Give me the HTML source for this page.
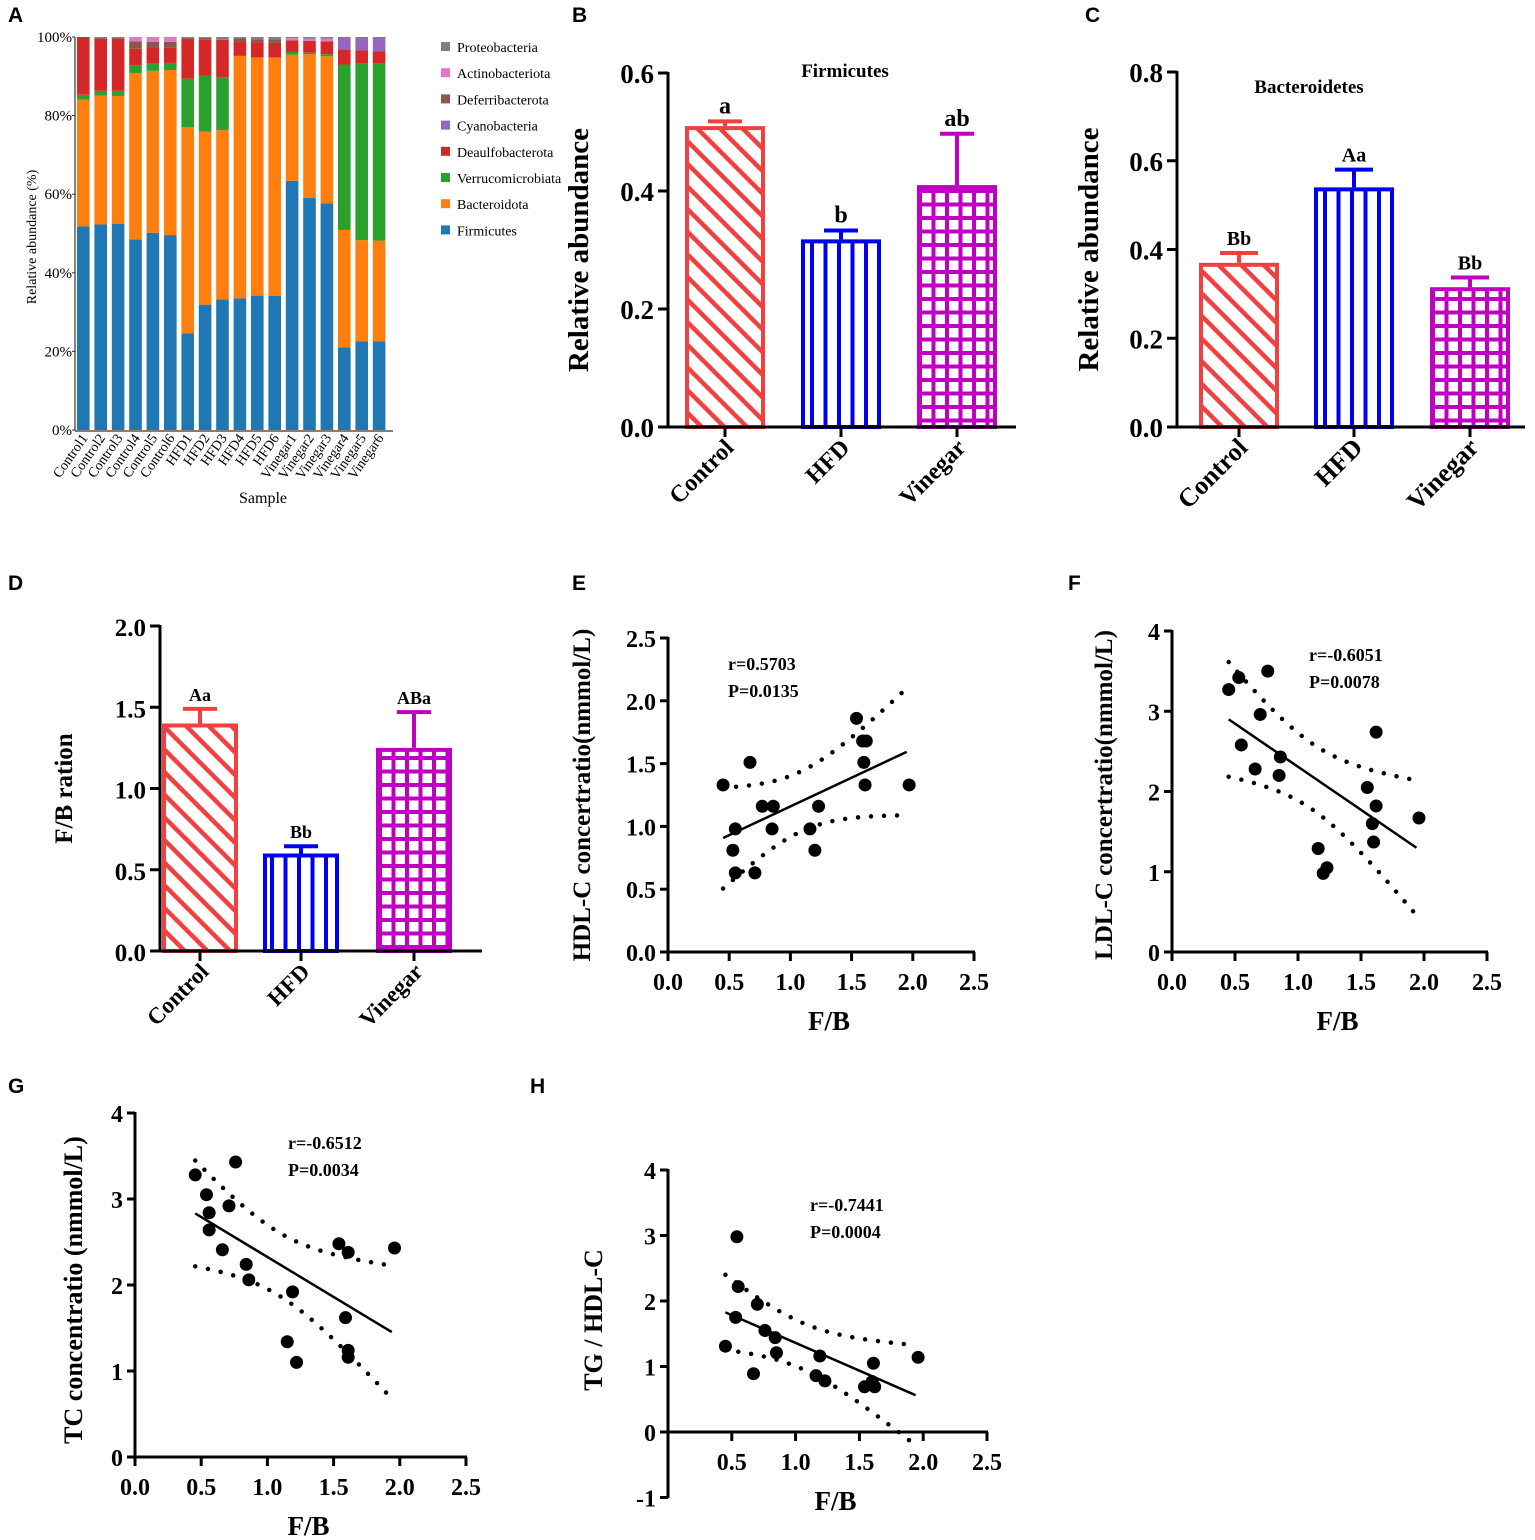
<!DOCTYPE html>
<html><head><meta charset="utf-8"><style>
body{margin:0;background:#fff;}
svg{display:block;font-family:"Liberation Serif",serif;}
.pl{font-family:"Liberation Sans",sans-serif;font-weight:bold;font-size:21px;}
.b{font-weight:bold;}
</style></head><body>
<svg id="fig" width="1535" height="1540" viewBox="0 0 1535 1540" xmlns="http://www.w3.org/2000/svg">
<defs>
<pattern id="pDiag" patternUnits="userSpaceOnUse" width="16" height="16" patternTransform="rotate(-45)"><rect width="16" height="16" fill="#fff"/><rect x="0" y="0" width="4.5" height="16" fill="#f24040"/></pattern>
<pattern id="pVert" patternUnits="userSpaceOnUse" width="13.5" height="10"><rect width="13.5" height="10" fill="#fff"/><rect x="0" y="0" width="4" height="10" fill="#0000f0"/></pattern>
<pattern id="pGrid" patternUnits="userSpaceOnUse" width="13.5" height="13.5"><rect width="13.5" height="13.5" fill="#c000c0"/><rect x="4" y="4" width="9.5" height="9.5" fill="#fff"/></pattern>
</defs>
<g id="root"></g>
</svg>
<script>
// ---------- Panel A data ----------
const samplesA = ["Control1","Control2","Control3","Control4","Control5","Control6","HFD1","HFD2","HFD3","HFD4","HFD5","HFD6","Vinegar1","Vinegar2","Vinegar3","Vinegar4","Vinegar5","Vinegar6"];
const phylaA = ["Firmicutes","Bacteroidota","Verrucomicrobiata","Deaulfobacterota","Cyanobacteria","Deferribacterota","Actinobacteriota","Proteobacteria"];
const firmicutesA = [51.8,52.3,52.5,48.5,50.2,49.6,24.6,31.9,33.2,33.5,34.2,34.1,63.4,59.1,57.7,21.0,22.6,22.6];
const bacteroidotaA = [32.3,32.8,32.5,42.3,41.2,42.0,52.5,44.0,43.1,61.7,60.6,60.7,32.1,36.5,37.4,29.9,25.7,25.6];
const verrucoA = [1.2,1.2,1.3,2.0,1.8,1.8,12.3,14.3,13.5,0,0,0,0.7,0.4,0.5,42.1,44.9,45.0];
const desulfoA = [14.7,13.3,13.3,4.2,4.0,4.0,10.2,9.1,9.5,3.5,3.9,3.7,2.9,3.0,3.3,3.8,3.4,3.2];
const cyanoA = [0,0,0,0,0,0,0,0,0,0,0,0,0,0,0,3.2,3.4,3.6];
const deferriA = [0,0,0,1.9,1.6,1.4,0,0.5,0,0.9,0.7,0.9,0,0,0,0,0,0];
const actinoA = [0,0,0,1.1,1.2,1.2,0,0,0,0,0,0,0.6,0.6,0.7,0,0,0];
const proteoA = [0,0.4,0.4,0,0,0,0.4,0.2,0.7,0.4,0.6,0.6,0.3,0.4,0.4,0,0,0];
const colorsA = ["#1f77b4","#ff7f0e","#2ca02c","#d62728","#9467bd","#8c564b","#e377c2","#7f7f7f"];
const ticksA = [0,20,40,60,80,100];

// ---------- Bar charts data ----------
const groups = ["Control","HFD","Vinegar"];
const firmMean = [0.51,0.318,0.41];
const firmErr = [0.008,0.015,0.087];
const firmLetters = ["a","b","ab"];
const bactMean = [0.37,0.54,0.315];
const bactErr = [0.022,0.04,0.022];
const bactLetters = ["Bb","Aa","Bb"];
const fbMean = [1.40,0.60,1.25];
const fbErr = [0.09,0.045,0.22];
const fbLetters = ["Aa","Bb","ABa"];

// ---------- Scatter data ----------
const hdlX = [0.45,0.55,0.53,0.55,0.67,0.71,0.77,0.86,0.85,1.16,1.20,1.23,1.54,1.59,1.62,1.60,1.61,1.97];
const hdlY = [1.33,0.98,0.81,0.63,1.51,0.63,1.16,1.16,0.98,0.98,0.81,1.16,1.86,1.68,1.68,1.51,1.33,1.33];
const ldlX = [0.45,0.53,0.76,0.70,0.55,0.66,0.86,0.85,1.16,1.20,1.23,1.55,1.62,1.62,1.59,1.60,1.96];
const ldlY = [3.27,3.42,3.50,2.96,2.58,2.28,2.43,2.20,1.29,0.98,1.05,2.05,2.74,1.82,1.60,1.37,1.67];
const tcX = [0.455,0.54,0.56,0.76,0.71,0.56,0.66,0.84,0.86,1.19,1.15,1.22,1.54,1.61,1.59,1.61,1.61,1.96];
const tcY = [3.28,3.05,2.84,3.43,2.92,2.64,2.41,2.24,2.06,1.92,1.34,1.10,2.48,2.38,1.62,1.24,1.16,2.43];
const tgX = [0.54,0.55,0.53,0.45,0.70,0.76,0.84,0.85,0.67,1.19,1.16,1.23,1.61,1.54,1.62,1.96,1.60];
const tgY = [2.98,2.22,1.75,1.31,1.95,1.55,1.44,1.21,0.89,1.16,0.86,0.78,1.05,0.69,0.69,1.14,0.77];
const xTicksFB = [0,0.5,1.0,1.5,2.0,2.5];

const NS="http://www.w3.org/2000/svg";
const root=document.getElementById('root');
function el(tag,attrs,parent,text){const e=document.createElementNS(NS,tag);for(const k in attrs)e.setAttribute(k,attrs[k]);if(text!==undefined)e.textContent=text;(parent||root).appendChild(e);return e;}
function grp(name){const g=el('g',{});


return g;}
function lin(d0,d1,r0,r1){return v=>r0+(v-d0)*(r1-r0)/(d1-d0);}

[["A",8,22],["B",572,22],["C",1085,22],["D",8,590],["E",572,590],["F",1068,590],["G",8,1093],["H",530,1093]].forEach(p=>{
 const t=el('text',{x:p[1],y:p[2],class:'pl'},root,p[0]);
 
 
});

// ---------- Panel A ----------
(function(){
 const g=grp('panel-a-stacked-bar');
 const y=lin(0,100,430,37);
 const x0=77, step=17.4, bw=12.6;
 const series=[firmicutesA,bacteroidotaA,verrucoA,desulfoA,cyanoA,deferriA,actinoA,proteoA];
 samplesA.forEach((s,i)=>{
  let cum=0;
  series.forEach((arr,k)=>{
   const v=arr[i]; if(v<=0)return;
   let top=Math.min(cum+v,100);
   const r=el('rect',{x:x0+i*step,y:y(top),width:bw,height:y(cum)-y(top),fill:colorsA[k]},g);
   
   
   cum=top;
  });
  if(cum<100){const r=el('rect',{x:x0+i*step,y:y(100),width:bw,height:y(cum)-y(100),fill:colorsA[3]},g);
   
   }
  const t=el('text',{x:0,y:0,'font-size':14,'text-anchor':'end',transform:`translate(${x0+i*step+bw/2+5},${438}) rotate(-55)`},g,s);
  
  
 });
 el('line',{x1:75,y1:37,x2:75,y2:431,stroke:'#333','stroke-width':1.2},g);
 el('line',{x1:75,y1:431,x2:393,y2:431,stroke:'#333','stroke-width':1.2},g);
 ticksA.forEach(v=>{
  el('line',{x1:72,x2:75,y1:y(v),y2:y(v),stroke:'#333'},g);
  const t=el('text',{x:72,y:y(v)+5,'font-size':15,'text-anchor':'end'},g,v+'%');
  
  
 });
 const yt=el('text',{x:0,y:0,'font-size':14,'text-anchor':'middle',transform:'translate(36,237) rotate(-90)'},g,'Relative abundance (%)');
 
 
 const xt=el('text',{x:263,y:503,'font-size':16,'text-anchor':'middle'},g,'Sample');
 
 
 const legOrder=[7,6,5,4,3,2,1,0];
 legOrder.forEach((k,j)=>{
  const ly=47+j*26.2;
  const sq=el('rect',{x:441,y:ly-5,width:9,height:9,fill:colorsA[k]},g);
  
  
  const t=el('text',{x:457,y:ly+5,'font-size':14},g,phylaA[k]);
  
  
 });
})();

// ---------- Bar charts ----------
function barChart(o){
 const g=grp(o.name);
 const y=lin(0,o.ymax,o.y0,o.ytop);
 const fills=['url(#pDiag)','url(#pVert)','url(#pGrid)'];
 const strokes=['#f24040','#0000f0','#c000c0'];
 o.means.forEach((m,i)=>{
  const cx=o.cx[i], hw=o.bw/2;
  const e=m+o.errs[i];
  const ln=el('line',{x1:cx,x2:cx,y1:y(m),y2:y(e),stroke:strokes[i],'stroke-width':4},g);
  
  
  el('line',{x1:cx-o.cap,x2:cx+o.cap,y1:y(e),y2:y(e),stroke:strokes[i],'stroke-width':4},g);
  const r=el('rect',{x:cx-hw+2,y:y(m)+2,width:o.bw-4,height:y(0)-y(m)-2,fill:fills[i],stroke:strokes[i],'stroke-width':4},g);
  
  
  const t=el('text',{x:cx,y:y(e)-8,'font-size':o.lfs,'text-anchor':'middle',class:'b'},g,o.letters[i]);
  
  
  el('line',{x1:cx,x2:cx,y1:o.y0,y2:o.y0+10,stroke:'#000','stroke-width':3},g);
  const c=el('text',{x:0,y:0,'font-size':o.cfs,'text-anchor':'end',class:'b',transform:`translate(${cx+10},${o.y0+22}) rotate(-45)`},g,groups[i]);
  
  
 });
 el('line',{x1:o.ax,x2:o.ax,y1:o.ytop-1,y2:o.y0+1,stroke:'#000','stroke-width':3},g);
 el('line',{x1:o.ax-10,x2:o.xend,y1:o.y0,y2:o.y0,stroke:'#000','stroke-width':3},g);
 o.ticks.forEach(v=>{
  el('line',{x1:o.ax-10,x2:o.ax,y1:y(v),y2:y(v),stroke:'#000','stroke-width':3},g);
  const t=el('text',{x:o.ax-14,y:y(v)+10,'font-size':o.tfs,'text-anchor':'end',class:'b'},g,v.toFixed(1));
  
  
 });
 const yt=el('text',{x:0,y:0,'font-size':o.yfs,'text-anchor':'middle',class:'b',transform:`translate(${o.ytx},${(o.y0+o.ytop)/2}) rotate(-90)`},g,o.ytitle);
 
 
 if(o.title){const t=el('text',{x:o.title[1],y:o.title[2],'font-size':19,'text-anchor':'middle',class:'b'},g,o.title[0]);
  
  }
}
barChart({name:'panel-b-firmicutes',means:firmMean,errs:firmErr,letters:firmLetters,ymax:0.6,y0:427,ytop:73,ax:668,xend:1016,cx:[725,841,957],bw:80,cap:17,ticks:[0,0.2,0.4,0.6],tfs:27,yfs:29,ytx:588,ytitle:'Relative abundance',title:['Firmicutes',845,77],lfs:24,cfs:24});
barChart({name:'panel-c-bacteroidetes',means:bactMean,errs:bactErr,letters:bactLetters,ymax:0.8,y0:427,ytop:72,ax:1177,xend:1525,cx:[1239,1354,1470],bw:80,cap:19,ticks:[0,0.2,0.4,0.6,0.8],tfs:27,yfs:29,ytx:1098,ytitle:'Relative abundance',title:['Bacteroidetes',1309,93],lfs:20,cfs:26});
barChart({name:'panel-d-fb-ratio',means:fbMean,errs:fbErr,letters:fbLetters,ymax:2.0,y0:951,ytop:626,ax:160,xend:482,cx:[200,301,414],bw:76,cap:17,ticks:[0,0.5,1.0,1.5,2.0],tfs:25,yfs:25,ytx:72,ytitle:'F/B ration',title:null,lfs:18,cfs:23});

// ---------- Scatter ----------
function scatter(o){
 const g=grp(o.name);
 const x=lin(0,2.5,o.ax,o.xr);
 const y=lin(0,o.ymax,o.y0,o.ytop);
 const n=o.xs.length;
 const xm=o.xs.reduce((a,b)=>a+b)/n, ym=o.ys.reduce((a,b)=>a+b)/n;
 let sxx=0,sxy=0;o.xs.forEach((v,i)=>{sxx+=(v-xm)**2;sxy+=(v-xm)*(o.ys[i]-ym);});
 const b=sxy/sxx,a=ym-b*xm;
 let sse=0;o.xs.forEach((v,i)=>{sse+=(o.ys[i]-a-b*v)**2;});
 const s=Math.sqrt(sse/(n-2)), t=o.t;
 const xmin=Math.min(...o.xs),xmax=Math.max(...o.xs)-0.02;
 const up=[],lo=[];
 for(let k=0;k<=40;k++){const xv=xmin+(xmax-xmin)*k/40;const h=t*s*Math.sqrt(1/n+(xv-xm)**2/sxx);
  up.push(x(xv)+','+y(a+b*xv+h));lo.push(x(xv)+','+y(a+b*xv-h));}
 [up,lo].forEach((pts,j)=>{const p=el('polyline',{points:pts.join(' '),fill:'none',stroke:'#000','stroke-width':4.5,'stroke-linecap':'round','stroke-dasharray':'0 13'},g);
  
  });
 const fl=el('line',{x1:x(xmin),y1:y(a+b*xmin),x2:x(xmax),y2:y(a+b*xmax),stroke:'#000','stroke-width':2.5},g);
 
 
 o.xs.forEach((v,i)=>{const c=el('circle',{cx:x(v),cy:y(o.ys[i]),r:6.5,fill:'#000'},g);
  
  });
 const xAxisY=y(0);
 el('line',{x1:o.ax,x2:o.ax,y1:o.ytop-1,y2:o.ybot+1,stroke:'#000','stroke-width':3},g);
 el('line',{x1:o.ax-8,x2:o.xr+1,y1:xAxisY,y2:xAxisY,stroke:'#000','stroke-width':3},g);
 o.yticks.forEach(v=>{el('line',{x1:o.ax-8,x2:o.ax,y1:y(v),y2:y(v),stroke:'#000','stroke-width':3},g);
  const tt=el('text',{x:o.ax-12,y:y(v)+9,'font-size':24,'text-anchor':'end',class:'b'},g,o.yfmt(v));
  
  });
 xTicksFB.forEach(v=>{el('line',{x1:x(v),x2:x(v),y1:xAxisY,y2:xAxisY+9,stroke:'#000','stroke-width':3},g);
  if(o.skip0&&v===0)return;
  const tt=el('text',{x:x(v),y:xAxisY+38,'font-size':24,'text-anchor':'middle',class:'b'},g,v.toFixed(1));
  
  });
 const xt=el('text',{x:(o.ax+o.xr)/2+8,y:o.xty,'font-size':27,'text-anchor':'middle',class:'b'},g,'F/B');
 
 
 const yt=el('text',{x:0,y:0,'font-size':o.yfs,'text-anchor':'middle',class:'b',transform:`translate(${o.ytx},${o.yty}) rotate(-90)`},g,o.ytitle);
 
 
 const r1=el('text',{x:o.stat[0],y:o.stat[1],'font-size':18,class:'b'},g,o.r);
 
 
 const p1=el('text',{x:o.stat[0],y:o.stat[1]+27,'font-size':18,class:'b'},g,o.p);
 
 
}
scatter({name:'panel-e-hdl',xs:hdlX,ys:hdlY,t:3.4,ax:668,xr:974,y0:952,ytop:638,ybot:952,ymax:2.5,yticks:[0,0.5,1,1.5,2,2.5],yfmt:v=>v.toFixed(1),xty:1030,ytx:590,yty:795,yfs:25,ytitle:'HDL-C concertratio(nmmol/L)',stat:[728,670],r:'r=0.5703',p:'P=0.0135'});
scatter({name:'panel-f-ldl',xs:ldlX,ys:ldlY,t:2.6,ax:1172,xr:1487,y0:952,ytop:631,ybot:952,ymax:4,yticks:[0,1,2,3,4],yfmt:v=>String(v),xty:1030,ytx:1112,yty:795,yfs:25,ytitle:'LDL-C concertratio(nmmol/L)',stat:[1309,661],r:'r=-0.6051',p:'P=0.0078'});
scatter({name:'panel-g-tc',xs:tcX,ys:tcY,t:2.6,ax:135,xr:466,y0:1457,ytop:1113,ybot:1457,ymax:4,yticks:[0,1,2,3,4],yfmt:v=>String(v),xty:1535,ytx:82,yty:1290,yfs:26,ytitle:'TC concentratio (nmmol/L)',stat:[288,1149],r:'r=-0.6512',p:'P=0.0034'});
scatter({name:'panel-h-tg-hdl',xs:tgX,ys:tgY,t:3.0,ax:668,xr:987,y0:1432,ytop:1170,ybot:1497,ymax:4,yticks:[-1,0,1,2,3,4],yfmt:v=>String(v),xty:1510,skip0:true,ytx:602,yty:1320,yfs:26,ytitle:'TG / HDL-C',stat:[810,1211],r:'r=-0.7441',p:'P=0.0004'});
</script>
</body></html>
